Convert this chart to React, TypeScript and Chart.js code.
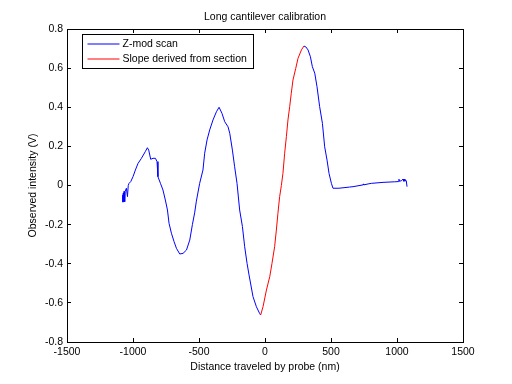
import { useEffect, useRef } from "react";
import { Chart, registerables } from "chart.js";

Chart.register(...registerables);

// ---- data ----
const scanX = [
  -1078, -1076, -1074, -1072, -1068, -1063, -1060, -1050, -1042, -1036, -1030, -1017, -1000, -982, -962, -936, -907, -891,
  -881, -866, -848, -830, -818, -811, -792, -773, -755, -739, -727, -709, -689, -671, -646, -621, -595, -570, -550, -533,
  -520, -495, -470, -457, -439, -419, -394, -368, -348, -326, -305, -280, -267, -247, -230, -212, -192, -171, -154, -136,
  -121, -91, -65, -40, -33, -15, 11, 36, 53, 73, 86, 98, 111, 124, 136, 149, 162, 174, 187, 199, 212, 233, 250, 276, 295,
  310, 326, 344, 359, 377, 394, 414, 435, 452, 470, 485, 503, 515, 560, 640, 667, 742, 745, 748, 781, 806, 894, 983, 1012,
  1015, 1018, 1033, 1046, 1050, 1055, 1060, 1066, 1070, 1076,
];
const scanY = [
  -0.05, -0.085, -0.04, -0.08, -0.03, -0.083, -0.03, -0.014, -0.057, 0.0, 0.011, 0.02, 0.045, 0.079, 0.113, 0.139, 0.173, 0.193,
  0.181, 0.134, 0.139, 0.139, 0.122, 0.045, 0.011, -0.023, -0.074, -0.125, -0.193, -0.244, -0.287, -0.321, -0.35, -0.347, -0.33, -0.279, -0.2, -0.14,
  -0.08, 0.011, 0.079, 0.165, 0.233, 0.284, 0.335, 0.377, 0.4, 0.369, 0.326, 0.3, 0.267, 0.181, 0.096, 0.011, -0.125, -0.21, -0.313, -0.398,
  -0.457, -0.568, -0.62, -0.655, -0.662, -0.62, -0.534, -0.466, -0.398, -0.313, -0.228, -0.142, -0.057, 0.0, 0.062, 0.165, 0.25, 0.335, 0.403, 0.471, 0.539, 0.599, 0.65, 0.693, 0.713,
  0.708, 0.693, 0.658, 0.607, 0.574, 0.505, 0.403, 0.318, 0.198, 0.13, 0.062, 0.011, -0.014, -0.014, -0.008, -0.006, 0.003, 0.008, 0.003, 0.008, 0.011, 0.016, 0.019, 0.02,
  0.032, 0.022, 0.024, 0.033, 0.022, 0.032, 0.022, 0.027, 0.025, -0.006,
];
const sectionX = [-33, -15, 11, 36, 53, 73, 86, 98, 111, 124, 136, 149, 162, 174, 187, 199, 212, 233, 250, 276, 295];
const sectionY = [
  -0.662, -0.62, -0.534, -0.466, -0.398, -0.313, -0.228, -0.142, -0.057, 0.0, 0.062, 0.165, 0.25, 0.335, 0.403, 0.471, 0.539,
  0.599, 0.65, 0.693, 0.713,
];
const xTicks = [-1500, -1000, -500, 0, 500, 1000, 1500];
const yTicks = [-0.8, -0.6, -0.4, -0.2, 0, 0.2, 0.4, 0.6, 0.8];
const seriesLabels = ["Z-mod scan", "Slope derived from section"];
const seriesColors = ["#0000ff", "#ff0000"];
const titleText = "Long cantilever calibration";
const xLabel = "Distance traveled by probe (nm)";
const yLabel = "Observed intensity (V)";

const FONT = "'Liberation Sans', Arial, Helvetica, sans-serif";
const FS = 10.5;

const boxLegend = {
  id: "boxLegend",
  afterDatasetsDraw(chart: any) {
    const { ctx, chartArea } = chart;
    ctx.save();
    ctx.font = `${FS}px ${FONT}`;
    const items = chart.data.datasets.map((ds: any) => ({ label: ds.label, color: ds.borderColor }));
    const left = Math.round(chartArea.left + 15) + 0.5;
    const top = Math.round(chartArea.top + 5) + 0.5;
    const lineLen = 32, gap = 3, padL = 5, padR = 7, rowH = 15;
    const textW = Math.max(...items.map((i: any) => ctx.measureText(i.label).width));
    const w = Math.round(padL + lineLen + gap + textW + padR);
    const h = rowH * items.length + 4;
    ctx.fillStyle = "#ffffff";
    ctx.fillRect(left, top, w, h);
    ctx.strokeStyle = "#000000";
    ctx.lineWidth = 1;
    ctx.strokeRect(left, top, w, h);
    items.forEach((it: any, i: number) => {
      const y = Math.round(top + 9 + i * rowH) - 0.5 + 0.5;
      ctx.strokeStyle = it.color;
      ctx.beginPath();
      ctx.moveTo(left + padL, y);
      ctx.lineTo(left + padL + lineLen, y);
      ctx.stroke();
      ctx.fillStyle = "#000000";
      ctx.textBaseline = "middle";
      ctx.textAlign = "left";
      ctx.fillText(it.label, left + padL + lineLen + gap, y);
    });
    ctx.restore();
  },
};

export default function App() {
  const ref = useRef<HTMLCanvasElement | null>(null);
  useEffect(() => {
    if (!ref.current) return;
    const lo = sectionX[0];
    const hi = sectionX[sectionX.length - 1];
    const blue = scanX.map((x, i) => ({ x, y: x > lo && x < hi ? null : scanY[i] }));
    const red = sectionX.map((x, i) => ({ x, y: sectionY[i] }));
    const font = { family: FONT, size: FS };
    const axisCommon = {
      type: "linear",
      grid: { drawOnChartArea: false, drawTicks: true, tickLength: -4, color: "#000", tickColor: "#000", lineWidth: 1 },
      border: { display: true, color: "#000", width: 1 },
    };
    const chart = new Chart(ref.current, {
      type: "line",
      data: {
        datasets: [
          { label: seriesLabels[0], data: blue, borderColor: seriesColors[0], borderWidth: 1, pointRadius: 0, spanGaps: false, tension: 0, order: 1, xAxisID: "x", yAxisID: "y" },
          { label: seriesLabels[1], data: red, borderColor: seriesColors[1], borderWidth: 1, pointRadius: 0, tension: 0, order: 0, xAxisID: "x", yAxisID: "y" },
        ],
      },
      options: {
        animation: false,
        responsive: false,
        devicePixelRatio: 1,
        events: [],
        layout: { padding: 0 },
        plugins: { legend: { display: false }, title: { display: false }, tooltip: { enabled: false } },
        scales: {
          x: {
            ...axisCommon,
            position: "bottom",
            min: -1500,
            max: 1500,
            afterBuildTicks: (s: any) => { s.ticks = xTicks.map((value) => ({ value })); },
            afterFit: (s: any) => { s.height = 42; },
            ticks: { color: "#000", font, padding: 8, maxRotation: 0, autoSkip: false, callback: (v: any) => String(v) },
            title: { display: true, text: xLabel, color: "#000", font, padding: { top: 0, bottom: 11 } },
          },
          x2: {
            ...axisCommon,
            position: "top",
            min: -1500,
            max: 1500,
            afterBuildTicks: (s: any) => { s.ticks = xTicks.map((value) => ({ value })); },
            afterFit: (s: any) => { s.height = 29; },
            ticks: { display: false },
            title: { display: true, text: titleText, color: "#000", font, padding: { top: 11, bottom: 0 } },
          },
          y: {
            ...axisCommon,
            position: "left",
            min: -0.8,
            max: 0.8,
            afterBuildTicks: (s: any) => { s.ticks = yTicks.map((value) => ({ value })); },
            afterFit: (s: any) => { s.width = 67; },
            ticks: { color: "#000", font, padding: 8, autoSkip: false, callback: (v: any) => String(v) },
            title: { display: true, text: yLabel, color: "#000", font, padding: { top: 27, bottom: 0 } },
          },
          y2: {
            ...axisCommon,
            position: "right",
            min: -0.8,
            max: 0.8,
            afterBuildTicks: (s: any) => { s.ticks = yTicks.map((value) => ({ value })); },
            afterFit: (s: any) => { s.width = 49; },
            ticks: { display: false },
          },
        },
      } as any,
      plugins: [boxLegend],
    } as any);
    return () => chart.destroy();
  }, []);
  return (
    <div style={{ position: "fixed", left: 0, top: 0, width: 512, height: 384, background: "#fff" }}>
      <canvas ref={ref} width={512} height={384} style={{ display: "block" }} />
    </div>
  );
}
